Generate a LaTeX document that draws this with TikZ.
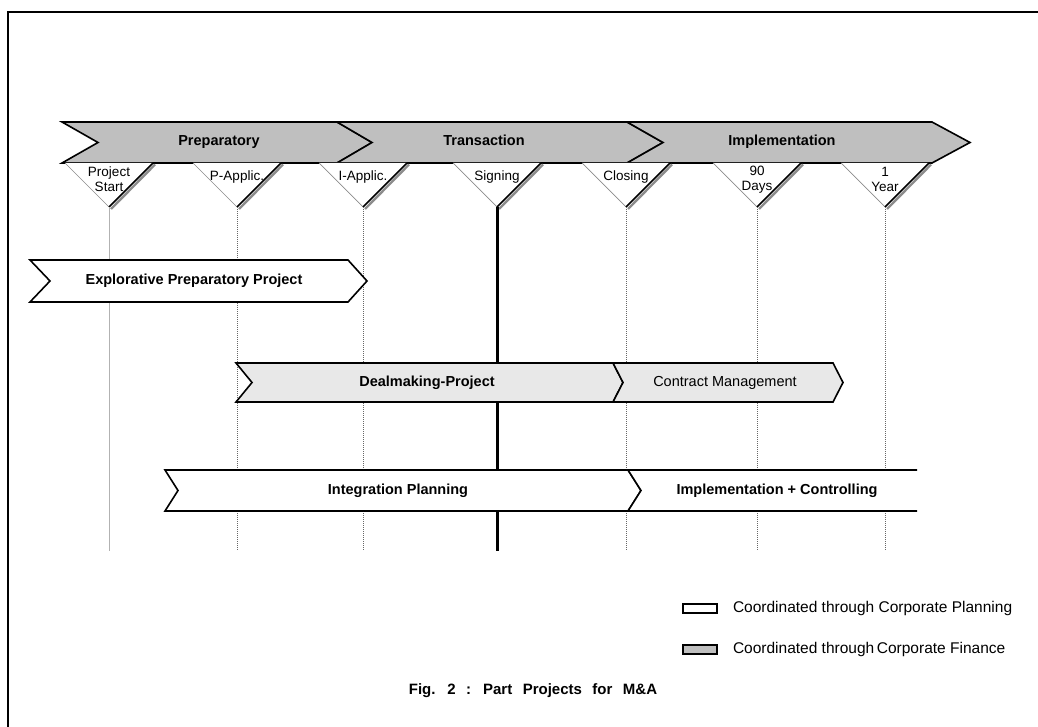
\documentclass[tikz,border=0pt]{standalone}
\usepackage{fontspec}
\setmainfont{Liberation Sans}
\usetikzlibrary{positioning}

\begin{document}
\begin{tikzpicture}[x=1pt,y=-1pt]
  \tikzset{
    phase/.style={draw, line width=1.6pt, fill=black!25},
    part/.style={draw, line width=1.6pt, fill=white},
    deal/.style={part, fill=black!9},
    label/.style={font=\fontsize{14.5}{17}\selectfont\bfseries, text height=0.75em, text depth=0pt},
    plain/.style={font=\fontsize{14.5}{17}\selectfont, text height=0.75em, text depth=0pt},
    mslabel/.style={font=\fontsize{13.5}{15}\selectfont, align=center, inner sep=0pt},
    keybox/.style={draw, line width=1.6pt, minimum width=34pt, minimum height=9.5pt, inner sep=0pt},
    keytext/.style={font=\fontsize{15.5}{18}\selectfont, inner sep=0pt},
    firstline/.style={draw=black!30, line width=0.8pt},
    dotline/.style={draw=black!60, densely dotted, line width=1pt},
    keyline/.style={draw=black, line width=3pt},
  }
  \useasboundingbox (0,0) rectangle (1038,727);
  \draw[line width=2pt] (8,727) -- (8,12) -- (1038,12);

  % phases
  \draw[phase] (62,122) -- (337,122) -- (372,142.5) -- (337,163) -- (62,163) -- (98,142.5) -- cycle;
  \draw[phase] (337,122) -- (627,122) -- (663,142.5) -- (627,163) -- (337,163) -- (372,142.5) -- cycle;
  \draw[phase] (627,122) -- (932,122) -- (970,142.5) -- (932,163) -- (627,163) -- (663,142.5) -- cycle;
  \node[label] (prep) at (219,142) {Preparatory};
  \node[label] (trans) at (484,142) {Transaction};
  \node[label] (impl) at (782,142) {Implementation};

  % milestones
  \foreach \x/\ty/\nm/\txt/\ls in {109/179.5/start/{Project\\Start}/firstline,
      237/177/papp/{P-Applic.}/dotline, 363/177/iapp/{I-Applic.}/dotline,
      497/177/sign/{Signing}/keyline, 626/177/close/{Closing}/dotline,
      757/179.5/days/{90\\Days}/dotline, 885/179.5/year/{1\\Year}/dotline}{
    \fill[white] (\x-44,163) -- (\x,207) -- (\x+44,163) -- cycle;
    \draw[black!45, line width=2.4pt] (\x+46,164.5) -- (\x+2,209);
    \draw[black!45, line width=0.7pt] (\x-44,163) -- (\x,207);
    \draw[line width=1.6pt] (\x,207) -- (\x+44,163);
    \node[mslabel] (\nm) at (\x,\ty) {\txt};
    \coordinate (\nm-tip) at (\x,207);
    \coordinate (\nm-end) at (\x,551);
    \draw[\ls] (\nm-tip) -- (\nm-end);
  }

  % part projects
  \draw[part] (30,260) -- (348,260) -- (367,281) -- (348,302) -- (30,302) -- (50,281) -- cycle;
  \node[label] (explore) at (194,281) {Explorative Preparatory Project};
  \draw[deal] (236,363) -- (613,363) -- (623,382.5) -- (613,402) -- (236,402) -- (252,382.5) -- cycle;
  \node[label] (dealmaking) at (427,382.5) {Dealmaking-Project};
  \draw[deal] (613,363) -- (833,363) -- (843,382.5) -- (833,402) -- (613,402) -- (623,382.5) -- cycle;
  \node[plain] (contract) at (725,382.5) {Contract Management};
  \draw[part] (165,470) -- (628,470) -- (641,490.5) -- (628,511) -- (165,511) -- (178,490.5) -- cycle;
  \node[label] (integ) at (398,490.5) {Integration Planning};
  \fill[white] (628,470) -- (917,470) -- (917,511) -- (628,511) -- (641,490.5) -- cycle;
  \draw[line width=1.6pt] (917,470) -- (628,470) -- (641,490.5) -- (628,511) -- (917,511);
  \node[label] (implctrl) at (777,490.5) {Implementation + Controlling};

  % legend
  \node[keybox, fill=white] (keyplan) at (700,608.5) {};
  \node[keytext, right=15pt of keyplan] (planning) {Coordinated through Corporate Planning};
  \node[keybox, fill=black!25] (keyfin) at (700,649.5) {};
  \node[keytext, right=15pt of keyfin] (finance) {Coordinated through\,Corporate Finance};

  \node[label, font=\fontsize{15}{18}\selectfont\bfseries] (caption) at (533,691)
    {\spaceskip=0.7em\relax Fig. 2 : Part Projects for M\&A};
\end{tikzpicture}
\end{document}
